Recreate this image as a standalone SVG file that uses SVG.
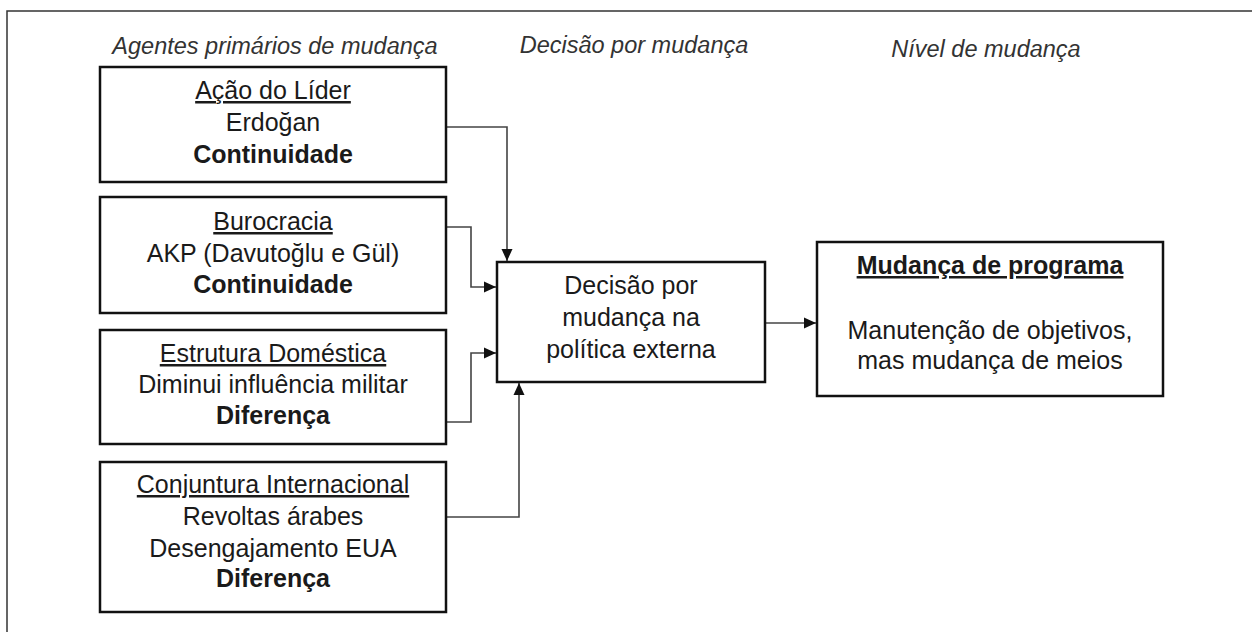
<svg xmlns="http://www.w3.org/2000/svg" width="1252" height="632" viewBox="0 0 1252 632">
<style>
.box{fill:#fff;stroke:#111;stroke-width:2.5}
.t{font-family:"Liberation Sans",Arial,sans-serif;font-size:25px;fill:#1a1a1a;text-anchor:middle}
.b{font-weight:bold}
.u{text-decoration:underline}
.h{font-family:"Liberation Sans",Arial,sans-serif;font-size:23.5px;font-style:italic;fill:#333;text-anchor:middle}
.c{fill:none;stroke:#444;stroke-width:1.6}
.frame{fill:none;stroke:#333;stroke-width:1.5}
</style>
<defs>
<marker id="ah" markerUnits="userSpaceOnUse" markerWidth="14" markerHeight="14" viewBox="0 0 14 14" refX="13" refY="7" orient="auto">
<path d="M1,1.5 L13,7 L1,12.5 Z" fill="#111"/>
</marker>
</defs>
<rect width="1252" height="632" fill="#fff"/>
<path class="frame" d="M7,632 V11 H1252"/>
<g id="headers">
<text class="h" x="275" y="54">Agentes primários de mudança</text>
<text class="h" x="634" y="53">Decisão por mudança</text>
<text class="h" x="986" y="57">Nível de mudança</text>
</g>
<g id="connectors">
<path class="c" d="M446,127 H507 V261" marker-end="url(#ah)"/>
<path class="c" d="M446,227 H471 V287 H496" marker-end="url(#ah)"/>
<path class="c" d="M446,422 H471 V353 H496" marker-end="url(#ah)"/>
<path class="c" d="M446,517 H519 V383" marker-end="url(#ah)"/>
<path class="c" d="M765,323 H816" marker-end="url(#ah)"/>
</g>
<g id="lider">
<rect class="box" x="100" y="67" width="346" height="115"/>
<text class="t u" x="273" y="99">Ação do Líder</text>
<text class="t" x="273" y="131">Erdoğan</text>
<text class="t b" x="273" y="163">Continuidade</text>
</g>
<g id="burocracia">
<rect class="box" x="100" y="197" width="346" height="116"/>
<text class="t u" x="273" y="230">Burocracia</text>
<text class="t" x="273" y="262">AKP (Davutoğlu e Gül)</text>
<text class="t b" x="273" y="293">Continuidade</text>
</g>
<g id="estrutura">
<rect class="box" x="100" y="330" width="346" height="114"/>
<text class="t u" x="273" y="362">Estrutura Doméstica</text>
<text class="t" x="273" y="393">Diminui influência militar</text>
<text class="t b" x="273" y="424">Diferença</text>
</g>
<g id="conjuntura">
<rect class="box" x="100" y="462" width="346" height="150"/>
<text class="t u" x="273" y="493">Conjuntura Internacional</text>
<text class="t" x="273" y="525">Revoltas árabes</text>
<text class="t" x="273" y="557">Desengajamento EUA</text>
<text class="t b" x="273" y="587">Diferença</text>
</g>
<g id="decisao">
<rect class="box" x="497" y="262" width="268" height="120"/>
<text class="t" x="631" y="294">Decisão por</text>
<text class="t" x="631" y="326">mudança na</text>
<text class="t" x="631" y="358">política externa</text>
</g>
<g id="programa">
<rect class="box" x="817" y="242" width="346" height="154"/>
<text class="t b u" x="990" y="274">Mudança de programa</text>
<text class="t" x="990" y="339">Manutenção de objetivos,</text>
<text class="t" x="990" y="369">mas mudança de meios</text>
</g>
</svg>
